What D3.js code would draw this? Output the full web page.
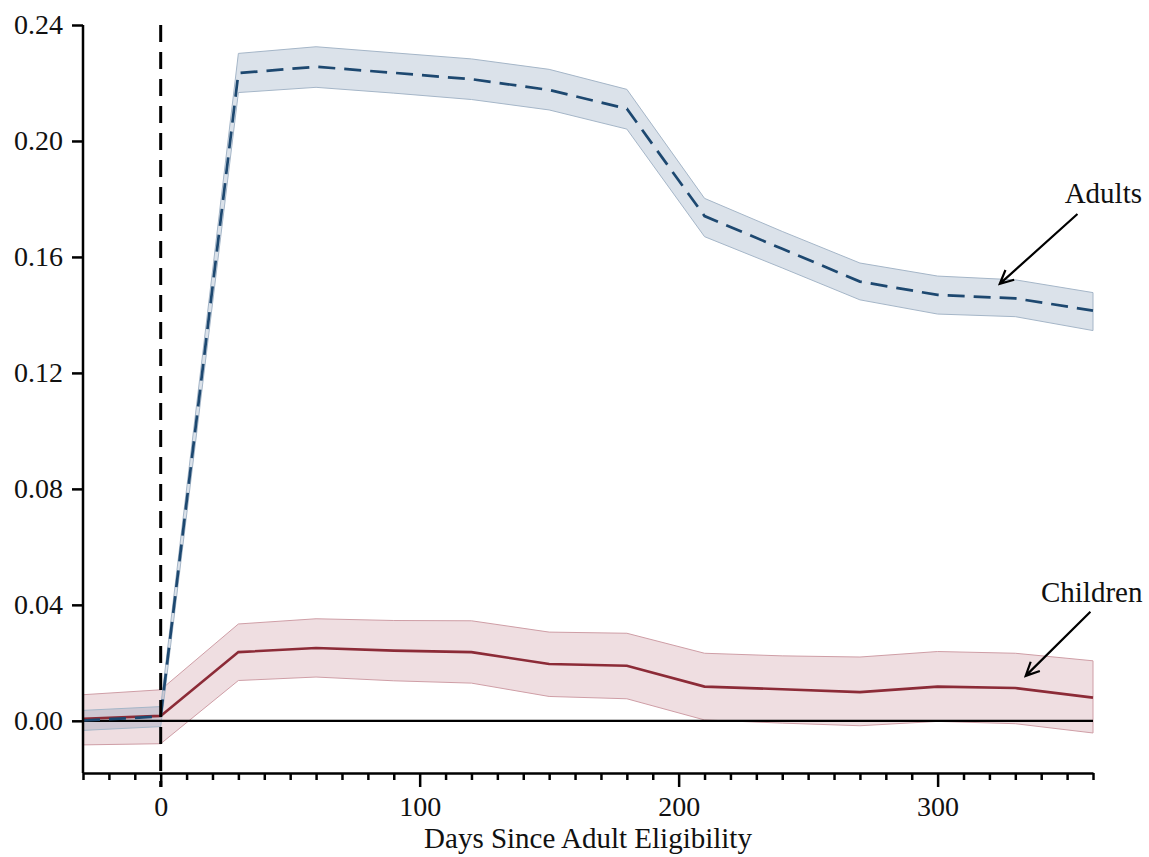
<!DOCTYPE html>
<html>
<head>
<meta charset="utf-8">
<script src="https://d3js.org/d3.v7.min.js"></script>
<style>
    body { margin: 0; background: #fff; }
    #chart-area { width: 1149px; height: 857px; }
    .axis text { font-family: "Liberation Serif", "DejaVu Serif", serif; font-size: 28px; fill: #111; }
    .axis path, .axis line { stroke: #000; stroke-width: 2.5px; }
    .x-title, .note { font-family: "Liberation Serif", "DejaVu Serif", serif; font-size: 29px; fill: #111; }
</style>
</head>
<body>
<div id="chart-area"></div>
<script>

// days relative to adult eligibility
const days = [-30, 0, 30, 60, 90, 120, 150, 180, 210, 240, 270, 300, 330, 360];

const adults   = [0.0001, 0.0015, 0.2234, 0.2256, 0.2235, 0.2213, 0.2176, 0.2111, 0.1741, 0.1628, 0.1515, 0.1469, 0.1457, 0.1415];
const adultsLo = [-0.0033, -0.0020, 0.2167, 0.2185, 0.2165, 0.2143, 0.2107, 0.2041, 0.1670, 0.1562, 0.1452, 0.1403, 0.1394, 0.1346];
const adultsHi = [0.0036, 0.0049, 0.2302, 0.2325, 0.2304, 0.2283, 0.2247, 0.2178, 0.1802, 0.1688, 0.1579, 0.1534, 0.1521, 0.1477];

const children   = [0.0007, 0.0017, 0.0237, 0.0251, 0.0242, 0.0237, 0.0196, 0.0190, 0.0118, 0.0109, 0.0099, 0.0118, 0.0113, 0.0080];
const childrenLo = [-0.0083, -0.0079, 0.0139, 0.0151, 0.0138, 0.0130, 0.0084, 0.0076, 0.0003, -0.0008, -0.0017, -0.0002, -0.0010, -0.0042];
const childrenHi = [0.0090, 0.0107, 0.0334, 0.0352, 0.0346, 0.0345, 0.0306, 0.0302, 0.0233, 0.0224, 0.0220, 0.0239, 0.0233, 0.0207];

const yTicks = [0.00, 0.04, 0.08, 0.12, 0.16, 0.20, 0.24];
const xMajorTicks = [0, 100, 200, 300];

// label text, label anchor and arrow (tail -> tip) in data units
const notes = [
    {text: "Adults",   lx: 364, ly: 0.1786, x0: 354, y0: 0.1748, x1: 324, y1: 0.1507},
    {text: "Children", lx: 359.5, ly: 0.0410, x0: 359, y0: 0.0376, x1: 334, y1: 0.0155}
];

class EligibilityChart {
    constructor(_parentElement) {
        this.parentElement = _parentElement;
        this.initvis();
    }

    initvis() {
        let vis = this;

        vis.margin = {top: 25, right: 56, bottom: 84, left: 83};
        vis.width = 1149 - vis.margin.left - vis.margin.right;
        vis.height = 857 - vis.margin.top - vis.margin.bottom;

        vis.svg = d3.select("#" + vis.parentElement).append("svg")
            .attr("width", vis.width + vis.margin.left + vis.margin.right)
            .attr("height", vis.height + vis.margin.top + vis.margin.bottom)
            .append("g")
            .attr("transform", "translate(" + vis.margin.left + "," + vis.margin.top + ")");

        vis.x = d3.scaleLinear().domain([-30, 360]).range([0, vis.width]);
        vis.y = d3.scaleLinear().domain([-0.018, 0.24]).range([vis.height, 0]);

        vis.wrangleData();
    }

    wrangleData() {
        let vis = this;

        vis.adultData = days.map((d, i) => ({day: d, v: adults[i], lo: adultsLo[i], hi: adultsHi[i]}));
        vis.childData = days.map((d, i) => ({day: d, v: children[i], lo: childrenLo[i], hi: childrenHi[i]}));

        vis.updateVis();
    }

    updateVis() {
        let vis = this;

        let area = d3.area()
            .x(d => vis.x(d.day))
            .y0(d => vis.y(d.lo))
            .y1(d => vis.y(d.hi));

        let line = d3.line()
            .x(d => vis.x(d.day))
            .y(d => vis.y(d.v));

        // confidence bands
        vis.svg.append("path")
            .datum(vis.childData)
            .attr("d", area)
            .style("fill", "#a03a4c")
            .style("fill-opacity", 0.17)
            .style("stroke", "#cf9ea6")
            .style("stroke-width", 1);

        vis.svg.append("path")
            .datum(vis.adultData)
            .attr("d", area)
            .style("fill", "#4a6f94")
            .style("fill-opacity", 0.2)
            .style("stroke", "#a5b6c8")
            .style("stroke-width", 1);

        // zero line
        vis.svg.append("line")
            .attr("x1", 0)
            .attr("x2", vis.width)
            .attr("y1", vis.y(0))
            .attr("y2", vis.y(0))
            .style("stroke", "#000")
            .style("stroke-width", 2.2);

        vis.svg.append("path")
            .datum(vis.childData)
            .attr("d", line)
            .style("fill", "none")
            .style("stroke", "#8c2b37")
            .style("stroke-width", 2.6);

        vis.svg.append("path")
            .datum(vis.adultData)
            .attr("d", line)
            .style("fill", "none")
            .style("stroke", "#1d4870")
            .style("stroke-width", 2.7)
            .style("stroke-dasharray", "17,9");

        // eligibility date
        vis.svg.append("line")
            .attr("x1", vis.x(0))
            .attr("x2", vis.x(0))
            .attr("y1", vis.y(0.24))
            .attr("y2", vis.height + 14)
            .style("stroke", "#000")
            .style("stroke-width", 3)
            .style("stroke-dasharray", "17,10");

        // axes
        vis.yAxis = d3.axisLeft(vis.y)
            .tickValues(yTicks)
            .tickFormat(d3.format(".2f"))
            .tickSize(11)
            .tickSizeOuter(0)
            .tickPadding(9);

        vis.svg.append("g")
            .attr("class", "axis y-axis")
            .call(vis.yAxis)
            .call(g => g.select(".domain").attr("d", `M0,${vis.y(0.24)}V${vis.height}`));

        vis.xMinor = d3.axisBottom(vis.x)
            .tickValues(d3.range(-30, 361, 10).filter(d => xMajorTicks.indexOf(d) < 0))
            .tickFormat("")
            .tickSize(7)
            .tickSizeOuter(0);

        vis.svg.append("g")
            .attr("class", "axis x-axis")
            .attr("transform", `translate(0, ${vis.height})`)
            .call(vis.xMinor);

        vis.xMajor = d3.axisBottom(vis.x)
            .tickValues(xMajorTicks)
            .tickFormat(d3.format("d"))
            .tickSize(14)
            .tickSizeOuter(0)
            .tickPadding(9);

        vis.svg.append("g")
            .attr("class", "axis x-axis")
            .attr("transform", `translate(0, ${vis.height})`)
            .call(vis.xMajor)
            .call(g => g.select(".domain").remove());

        vis.svg.append("text")
            .attr("class", "x-title")
            .attr("x", vis.x(165))
            .attr("y", vis.height + 75)
            .style("text-anchor", "middle")
            .text("Days Since Adult Eligibility");

        // annotations
        let notesG = vis.svg.selectAll(".note-g")
            .data(notes)
            .enter()
            .append("g")
            .attr("class", "note-g");

        notesG.append("text")
            .attr("class", "note")
            .attr("x", d => vis.x(d.lx))
            .attr("y", d => vis.y(d.ly))
            .style("text-anchor", "middle")
            .text(d => d.text);

        notesG.append("path")
            .attr("d", d => {
                let ax = vis.x(d.x0), ay = vis.y(d.y0), bx = vis.x(d.x1), by = vis.y(d.y1);
                let ang = Math.atan2(by - ay, bx - ax);
                let len = 15, spread = Math.PI / 7;
                let p1 = [bx - len * Math.cos(ang - spread), by - len * Math.sin(ang - spread)];
                let p2 = [bx - len * Math.cos(ang + spread), by - len * Math.sin(ang + spread)];
                return `M${ax},${ay}L${bx},${by}M${p1[0]},${p1[1]}L${bx},${by}L${p2[0]},${p2[1]}`;
            })
            .style("fill", "none")
            .style("stroke", "#000")
            .style("stroke-width", 2.2);
    }
}

new EligibilityChart("chart-area");

</script>
</body>
</html>
